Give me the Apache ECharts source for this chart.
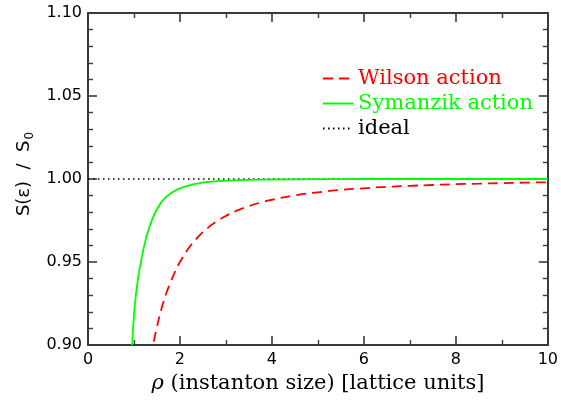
<!DOCTYPE html>
<html>
<head>
<meta charset="utf-8">
<script src="https://cdn.jsdelivr.net/npm/echarts@6/dist/echarts.min.js"></script>
<style>
  html, body { margin: 0; padding: 0; background: #fff; }
  #chart { width: 561px; height: 400px; }
</style>
</head>
<body>
<div id="chart"></div>
<script>
// Instanton action ratio S(eps)/S0 against instanton size rho
const wilsonRho = [1.43, 1.5, 1.6, 1.7, 1.8, 1.9, 2.0, 2.2, 2.4, 2.6, 2.8, 3.0, 3.25, 3.5, 3.75, 4.0, 4.5, 5.0, 5.5, 6.0, 6.5, 7.0, 7.5, 8.0, 8.5, 9.0, 9.5, 10.0];
const wilsonS   = [0.902, 0.911, 0.922, 0.931, 0.938, 0.9446, 0.950, 0.9587, 0.9653, 0.9704, 0.9745, 0.9778, 0.9811, 0.9837, 0.9858, 0.9875, 0.9901, 0.992, 0.9934, 0.9944, 0.9953, 0.9959, 0.9964, 0.9969, 0.9972, 0.9975, 0.9978, 0.998];

const symanzikRho = [0.96, 1.0, 1.05, 1.1, 1.15, 1.2, 1.25, 1.3, 1.4, 1.5, 1.6, 1.7, 1.8, 1.9, 2.0, 2.2, 2.4, 2.6, 2.8, 3.0, 3.5, 4.0, 5.0, 6.0, 8.0, 10.0];
const symanzikS   = [0.900, 0.918, 0.932, 0.942, 0.950, 0.957, 0.963, 0.968, 0.976, 0.9817, 0.9862, 0.9892, 0.9914, 0.9931, 0.9944, 0.9962, 0.9974, 0.9982, 0.9987, 0.9990, 0.9995, 0.9997, 0.9999, 1.0, 1.0, 1.0];

const idealRho = [0, 10];
const idealS   = [1, 1];

const seriesNames = ['Wilson action', 'Symanzik action', 'ideal'];
const seriesColors = ['#ff0000', '#00ff00', '#000000'];

const pairs = (xs, ys) => xs.map((x, i) => [x, ys[i]]);

const axisColor = '#3a3a3a';
const tickFont = { fontFamily: 'DejaVu Sans', fontSize: 16, color: '#000' };

function xAxisDef(pos, showLabels) {
  return {
    type: 'value', position: pos, min: 0, max: 10, interval: 2,
    axisLine: { show: true, onZero: false, lineStyle: { color: axisColor, width: 2 } },
    axisTick: { show: true, inside: true, length: 9, lineStyle: { color: axisColor, width: 1.6 } },
    minorTick: { show: true, splitNumber: 2, length: 5, lineStyle: { color: axisColor, width: 1.4 } },
    splitLine: { show: false },
    axisLabel: Object.assign({ show: showLabels, margin: 7, formatter: v => String(Math.round(v)) }, tickFont)
  };
}

function yAxisDef(pos, showLabels) {
  return {
    type: 'value', position: pos, min: 0.9, max: 1.1, interval: 0.05,
    axisLine: { show: true, onZero: false, lineStyle: { color: axisColor, width: 2 } },
    axisTick: { show: true, inside: true, length: 9, lineStyle: { color: axisColor, width: 1.6 } },
    minorTick: { show: true, splitNumber: 5, length: 5, lineStyle: { color: axisColor, width: 1.4 } },
    splitLine: { show: false },
    axisLabel: Object.assign({ show: showLabels, margin: 6, formatter: v => v.toFixed(2) }, tickFont)
  };
}

const xBottom = xAxisDef('bottom', true);
xBottom.name = '{i|ρ} (instanton size) [lattice units]';
xBottom.nameLocation = 'middle';
xBottom.nameGap = 25;
xBottom.nameTextStyle = {
  fontFamily: 'DejaVu Serif', fontSize: 21, color: '#000',
  rich: { i: { fontFamily: 'DejaVu Serif', fontStyle: 'italic', fontSize: 21, color: '#000' } }
};

const yLeft = yAxisDef('left', true);
yLeft.name = '{m|S(ε)  /  S}{s|0}';
yLeft.nameLocation = 'middle';
yLeft.nameGap = 52;
yLeft.nameTextStyle = {
  padding: [0, 0, 0, 10],
  rich: {
    m: { fontFamily: 'DejaVu Sans', fontSize: 18, color: '#000' },
    s: { fontFamily: 'DejaVu Sans', fontSize: 12, color: '#000', verticalAlign: 'bottom', padding: [10, 0, 0, 1] }
  }
};

const option = {
  animation: false,
  backgroundColor: '#fff',
  grid: { left: 88, right: 9, top: 13, bottom: 55, containLabel: false },
  xAxis: [xBottom, xAxisDef('top', false)],
  yAxis: [yLeft, yAxisDef('right', false)],
  legend: {
    orient: 'vertical', left: 317, top: 63,
    itemWidth: 30, itemHeight: 14, itemGap: 4,
    selectedMode: false,
    itemStyle: { opacity: 0 },
    textStyle: { fontFamily: 'DejaVu Serif', fontSize: 21 },
    data: seriesNames.map((n, i) => ({ name: n, textStyle: { color: seriesColors[i] } }))
  },
  series: [
    {
      name: seriesNames[2], type: 'line', data: pairs(idealRho, idealS),
      symbol: 'none', z: 1,
      itemStyle: { color: seriesColors[2] },
      lineStyle: { color: seriesColors[2], width: 1.5, type: [1.5, 3.5] }
    },
    {
      name: seriesNames[0], type: 'line', data: pairs(wilsonRho, wilsonS),
      symbol: 'none', smooth: 0.5, z: 2,
      itemStyle: { color: seriesColors[0] },
      lineStyle: { color: seriesColors[0], width: 1.8, type: [10, 6] }
    },
    {
      name: seriesNames[1], type: 'line', data: pairs(symanzikRho, symanzikS),
      symbol: 'none', smooth: 0.5, z: 3,
      itemStyle: { color: seriesColors[1] },
      lineStyle: { color: seriesColors[1], width: 1.8 }
    }
  ]
};

const chart = echarts.init(document.getElementById('chart'), null, { renderer: 'canvas' });
chart.setOption(option);
</script>
</body>
</html>
